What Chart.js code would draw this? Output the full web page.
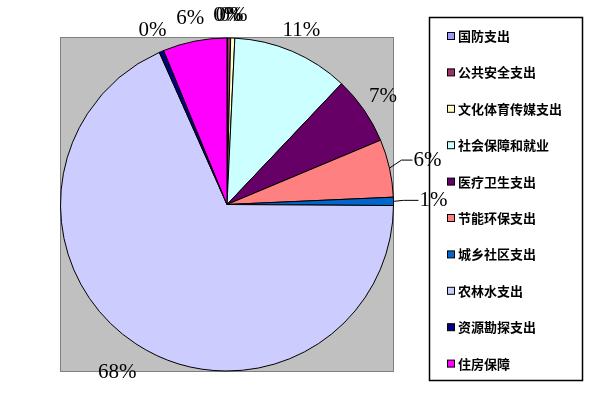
<!DOCTYPE html>
<html>
<head>
<meta charset="utf-8">
<script src="https://cdn.jsdelivr.net/npm/chart.js@4/dist/chart.umd.min.js"></script>
<style>
  html, body { margin: 0; padding: 0; background: #fff; }
  #wrap { width: 590px; height: 411px; }
</style>
</head>
<body>
<div id="wrap"><canvas id="pie" width="590" height="411"></canvas></div>
<script>
'use strict';

// categories and shares (percent)
let categories = ['国防支出', '公共安全支出', '文化体育传媒支出', '社会保障和就业', '医疗卫生支出',
  '节能环保支出', '城乡社区支出', '农林水支出', '资源勘探支出', '住房保障'];
let shares = [0.05, 0.3, 0.4, 11.3, 6.6, 5.6, 0.8, 68.1, 0.45, 6.2];
let sliceColors = ['#9999FF', '#993366', '#FFFFCC', '#CCFFFF', '#660066',
  '#FF8080', '#0066CC', '#CCCCFF', '#000080', '#FF00FF'];

// gray square behind the pie
const plotBox = {
  id: 'plotBox',
  beforeDatasetsDraw(chart) {
    const a = chart.chartArea;
    const ctx = chart.ctx;
    ctx.save();
    ctx.fillStyle = '#C0C0C0';
    ctx.fillRect(a.left, a.top, a.right - a.left, a.bottom - a.top);
    ctx.strokeStyle = '#808080';
    ctx.lineWidth = 1;
    ctx.strokeRect(a.left + 0.5, a.top + 0.5, a.right - a.left - 1, a.bottom - a.top - 1);
    ctx.restore();
  }
};

// percent labels outside each slice, two of them pulled out with a leader line
const pctLabels = {
  id: 'pctLabels',
  afterDatasetsDraw(chart, args, opts) {
    const ctx = chart.ctx;
    const meta = chart.getDatasetMeta(0);
    const data = chart.data.datasets[0].data;
    const total = data.reduce((s, v) => s + v, 0);
    ctx.save();
    ctx.font = '21px "Liberation Serif", "Times New Roman", serif';
    ctx.fillStyle = '#000';
    ctx.strokeStyle = '#000';
    ctx.lineWidth = 1;
    ctx.textBaseline = 'middle';
    meta.data.forEach(function(arc, i) {
      const p = arc.getProps(['x', 'y', 'startAngle', 'endAngle', 'outerRadius'], true);
      const mid = (p.startAngle + p.endAngle) / 2;
      const text = Math.round(data[i] / total * 100) + '%';
      const lead = opts.leaders[i];
      if (lead) {
        const x0 = p.x + Math.cos(mid) * p.outerRadius;
        const y0 = p.y + Math.sin(mid) * p.outerRadius;
        const y1 = y0 + lead.dy;
        ctx.beginPath();
        ctx.moveTo(x0, y0);
        ctx.lineTo(x0 + lead.elbow, y1);
        ctx.lineTo(x0 + lead.len, y1);
        ctx.stroke();
        ctx.textAlign = 'left';
        ctx.fillText(text, x0 + lead.len + 1, y1);
      } else {
        // push labels further out where they sit below the pie
        const r = p.outerRadius + opts.gap + opts.vgap * Math.max(0, Math.sin(mid));
        ctx.textAlign = 'center';
        ctx.fillText(text, p.x + Math.cos(mid) * r, p.y + Math.sin(mid) * r);
      }
    });
    ctx.restore();
  }
};

// boxed legend on the right
const boxLegend = {
  id: 'boxLegend',
  afterDraw(chart) {
    const ctx = chart.ctx;
    ctx.save();
    ctx.strokeStyle = '#000';
    ctx.lineWidth = 1.5;
    ctx.strokeRect(429.5, 17.5, 153, 363);
    ctx.font = 'bold 13px "Noto Sans CJK SC", sans-serif';
    ctx.textAlign = 'left';
    ctx.textBaseline = 'middle';
    for (let i = 0; i < categories.length; i++) {
      const y = 36 + i * 36.4;
      ctx.fillStyle = sliceColors[i];
      ctx.fillRect(447, y - 3.5, 7, 7);
      ctx.lineWidth = 1;
      ctx.strokeRect(447.5, y - 3.5, 7, 7);
      ctx.fillStyle = '#000';
      ctx.fillText(categories[i], 458, y);
    }
    ctx.restore();
  }
};

new Chart(document.getElementById('pie'), {
  type: 'pie',
  data: {
    labels: categories,
    datasets: [{
      data: shares,
      backgroundColor: sliceColors,
      borderColor: '#000',
      borderWidth: 1
    }]
  },
  options: {
    responsive: false,
    animation: false,
    layout: { padding: { left: 60, top: 37, right: 196, bottom: 39 } },
    plugins: {
      legend: { display: false },
      tooltip: { enabled: false },
      pctLabels: {
        gap: 23,
        vgap: 13,
        leaders: {
          5: { dy: -8, elbow: 12, len: 23 },
          6: { dy: -1, elbow: 10, len: 25 }
        }
      }
    }
  },
  plugins: [plotBox, pctLabels, boxLegend]
});
</script>
</body>
</html>
